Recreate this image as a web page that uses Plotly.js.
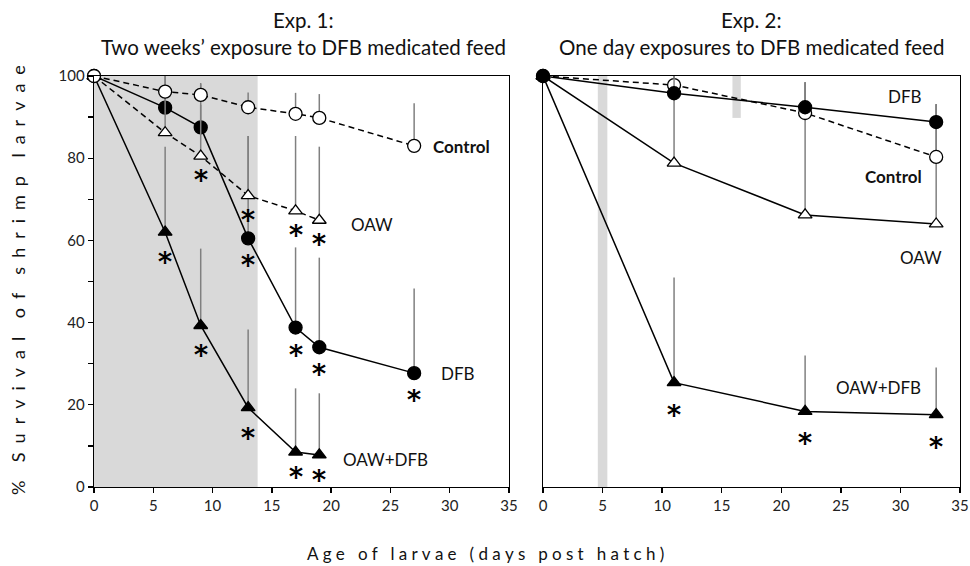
<!DOCTYPE html>
<html>
<head>
<meta charset="utf-8">
<script src="https://cdn.plot.ly/plotly-3.0.1.min.js"></script>
<style>html,body{margin:0;padding:0;background:#fff;}#chart{width:970px;height:566px;}</style>
</head>
<body>
<div id="chart"></div>
<script>
// ---------- Exp. 1 data (days post hatch) ----------
var exp1DaysLong  = [0, 6, 9, 13, 17, 19, 27];
var exp1DaysShort = [0, 6, 9, 13, 17, 19];
var exp1Control     = [100, 96.2, 95.4, 92.4, 90.8, 89.8, 83.0];
var exp1ControlErr  = [0, 3.8, 2.9, 3.6, 5.1, 5.8, 10.4];
var exp1Dfb         = [100, 92.3, 87.5, 60.5, 38.8, 34.0, 27.7];
var exp1DfbErr      = [0, 7.7, 10.5, 24.9, 19.5, 21.8, 20.6];
var exp1DfbSig      = [0, 0, 0, 1, 1, 1, 1];
var exp1Oaw         = [100, 86.2, 80.5, 70.9, 67.2, 64.9];
var exp1OawErr      = [0, 11.8, 12.5, 14.5, 18.2, 17.9];
var exp1OawSig      = [0, 0, 1, 1, 1, 1];
var exp1OawDfb      = [100, 62.0, 39.3, 19.3, 8.5, 7.8];
var exp1OawDfbErr   = [0, 20.8, 18.7, 19.0, 15.5, 15.0];
var exp1OawDfbSig   = [0, 1, 1, 1, 1, 1];
var exp1ShadeDays   = [0, 13.8];

// ---------- Exp. 2 data ----------
var exp2Days        = [0, 11, 22, 33];
var exp2Control     = [100, 97.8, 91.0, 80.3];
var exp2ControlErr  = [0, 2.2, 7.5, 12.7];
var exp2Dfb         = [100, 95.8, 92.4, 88.8];
var exp2DfbErr      = [0, 4.2, 6.1, 4.4];
var exp2Oaw         = [100, 78.8, 66.2, 64.0];
var exp2OawErr      = [0, 21.2, 32.3, 29.2];
var exp2OawDfb      = [100, 25.4, 18.4, 17.6];
var exp2OawDfbErr   = [0, 25.6, 13.6, 11.5];
var exp2OawDfbSig   = [0, 1, 1, 1];
var exp2DoseBars    = [[4.6, 5.4, 0, 101], [15.9, 16.6, 89.8, 101]];

var xTicks = [0, 5, 10, 15, 20, 25, 30, 35];
var yTicks = [0, 20, 40, 60, 80, 100];

var FONT = 'Lato, "Open Sans", sans-serif';
var STARFONT = 'Inter, "Open Sans", sans-serif';
var ERRC = '#808080';

function trace(x, y, err, xa, ya, symbol, filled, dash) {
  return {
    x: x, y: y, xaxis: xa, yaxis: ya, type: 'scatter', mode: 'lines+markers',
    cliponaxis: false, showlegend: false, hoverinfo: 'skip',
    line: {color: '#000', width: 1.5, dash: dash},
    marker: {symbol: symbol, size: symbol.indexOf('triangle') === 0 ? 12 : 13,
             color: filled ? '#000' : '#fff', line: {color: '#000', width: 1.3}},
    error_y: {type: 'data', symmetric: false, array: err,
              arrayminus: err.map(function () { return 0; }),
              color: ERRC, thickness: 1.5, width: 0}
  };
}

var DASH = '6px,4px';
var data = [
  trace(exp1DaysShort, exp1OawDfb, exp1OawDfbErr, 'x', 'y', 'triangle-up', true, 'solid'),
  trace(exp1DaysLong, exp1Dfb, exp1DfbErr, 'x', 'y', 'circle', true, 'solid'),
  trace(exp1DaysShort, exp1Oaw, exp1OawErr, 'x', 'y', 'triangle-up', false, DASH),
  trace(exp1DaysLong, exp1Control, exp1ControlErr, 'x', 'y', 'circle', false, DASH),
  trace(exp2Days, exp2OawDfb, exp2OawDfbErr, 'x2', 'y2', 'triangle-up', true, 'solid'),
  trace(exp2Days, exp2Oaw, exp2OawErr, 'x2', 'y2', 'triangle-up', false, 'solid'),
  trace(exp2Days, exp2Control, exp2ControlErr, 'x2', 'y2', 'circle', false, DASH),
  trace(exp2Days, exp2Dfb, exp2DfbErr, 'x2', 'y2', 'circle', true, 'solid')
];

var annotations = [];
function stars(days, vals, sig, xref, yref, shift) {
  for (var i = 0; i < days.length; i++) {
    if (!sig[i]) continue;
    // values close to the x axis get their mark tucked a little closer
    var s = vals[i] < 10 ? shift - 5 : shift;
    annotations.push({x: days[i], y: vals[i], xref: xref, yref: yref, text: '*',
      showarrow: false, yshift: -s, height: 22, width: 16, valign: 'middle',
      font: {family: STARFONT, size: 34, color: '#000'}});
  }
}
stars(exp1DaysShort, exp1Oaw, exp1OawSig, 'x', 'y', 24);
stars(exp1DaysLong, exp1Dfb, exp1DfbSig, 'x', 'y', 27);
stars(exp1DaysShort, exp1OawDfb, exp1OawDfbSig, 'x', 'y', 30);
stars(exp2Days, exp2OawDfb, exp2OawDfbSig, 'x2', 'y2', 32);

function label(text, x, y, xref, yref, bold) {
  annotations.push({x: x, y: y, xref: xref, yref: yref, text: bold ? '<b>' + text + '</b>' : text,
    showarrow: false, xanchor: 'left', yanchor: 'middle',
    font: {family: FONT, size: 17, color: '#111'}});
}
label('Control', 28.4, 82.8, 'x', 'y', true);
label('OAW', 21.5, 63.8, 'x', 'y', false);
label('DFB', 29.1, 27.7, 'x', 'y', false);
label('OAW+DFB', 20.8, 6.6, 'x', 'y', false);
label('DFB', 28.8, 95.1, 'x2', 'y2', false);
label('Control', 26.9, 75.5, 'x2', 'y2', true);
label('OAW', 29.8, 55.8, 'x2', 'y2', false);
label('OAW+DFB', 24.4, 24.3, 'x2', 'y2', false);

function spaced(s, gap, wordGap) {
  return s.split(' ').map(function (w) { return w.split('').join(gap); }).join(wordGap);
}
var titleFont = {family: FONT, size: 20.5, color: '#111'};
function title(text, x, y) {
  annotations.push({xref: 'paper', yref: 'paper', x: x / 970, y: 1 - y / 566, text: text,
    xanchor: 'center', yanchor: 'middle', showarrow: false, font: titleFont});
}
title('Exp. 1:', 303, 20);
title('Two weeks\u2019 exposure to DFB medicated feed', 303, 47);
title('Exp. 2:', 751, 20);
title('One day exposures to DFB medicated feed', 751, 47);
annotations.push({xref: 'paper', yref: 'paper', x: 485 / 970, y: 1 - 553 / 566, xanchor: 'center', yanchor: 'middle',
  text: spaced('Age of larvae (days post hatch)', '\u2009\u2009', '\u00a0\u00a0\u00a0'), showarrow: false,
  font: {family: FONT, size: 17, color: '#111'}});
annotations.push({xref: 'paper', yref: 'paper', x: 18 / 970, y: 1 - 280 / 566, xanchor: 'center', yanchor: 'middle',
  text: spaced('% Survival of shrimp larvae', '\u2009\u2009\u2009\u2009', '\u00a0\u00a0\u00a0\u00a0'), textangle: -90, showarrow: false,
  font: {family: FONT, size: 18, color: '#111'}});

var shapes = [
  {type: 'rect', xref: 'x', yref: 'y', x0: exp1ShadeDays[0], x1: exp1ShadeDays[1], y0: 0, y1: 100,
   fillcolor: '#d9d9d9', line: {width: 0}, layer: 'below'}
];
exp2DoseBars.forEach(function (b) {
  shapes.push({type: 'rect', xref: 'x2', yref: 'y2', x0: b[0], x1: b[1], y0: b[2], y1: b[3],
    fillcolor: '#d9d9d9', line: {width: 0}, layer: 'below'});
});

var yDom = [1 - 487 / 566, 1 - 76 / 566];
function xa(dom, anchor) {
  return {domain: dom, anchor: anchor, range: [0, 35], tickvals: xTicks, ticks: 'outside', ticklen: 5,
    tickwidth: 1.3, tickcolor: '#000', showline: true, linecolor: '#000', linewidth: 1.3, mirror: true,
    showgrid: false, zeroline: false, tickfont: {family: FONT, size: 15, color: '#222'}, fixedrange: true};
}
var layout = {
  width: 970, height: 566, margin: {l: 0, r: 0, t: 0, b: 0},
  paper_bgcolor: '#fff', plot_bgcolor: 'rgba(0,0,0,0)', showlegend: false,
  xaxis: xa([94 / 970, 509 / 970], 'y'),
  xaxis2: xa([543 / 970, 960 / 970], 'y2'),
  yaxis: {domain: yDom, anchor: 'x', range: [0, 100], tickvals: yTicks, ticks: 'outside', ticklen: 5,
    tickwidth: 1.3, tickcolor: '#000', minor: {tickvals: [10, 30, 50, 70, 90], ticks: 'outside', ticklen: 5, tickwidth: 1.3, tickcolor: '#000'},
    showline: true, linecolor: '#000', linewidth: 1.3, mirror: true, showgrid: false, zeroline: false,
    tickfont: {family: FONT, size: 15, color: '#222'}, fixedrange: true},
  yaxis2: {domain: yDom, anchor: 'x2', range: [0, 100], showticklabels: false, ticks: '',
    showline: true, linecolor: '#000', linewidth: 1.3, mirror: true, showgrid: false, zeroline: false, fixedrange: true},
  shapes: shapes,
  annotations: annotations
};
Plotly.newPlot('chart', data, layout, {displayModeBar: false, staticPlot: true});
</script>
</body>
</html>
